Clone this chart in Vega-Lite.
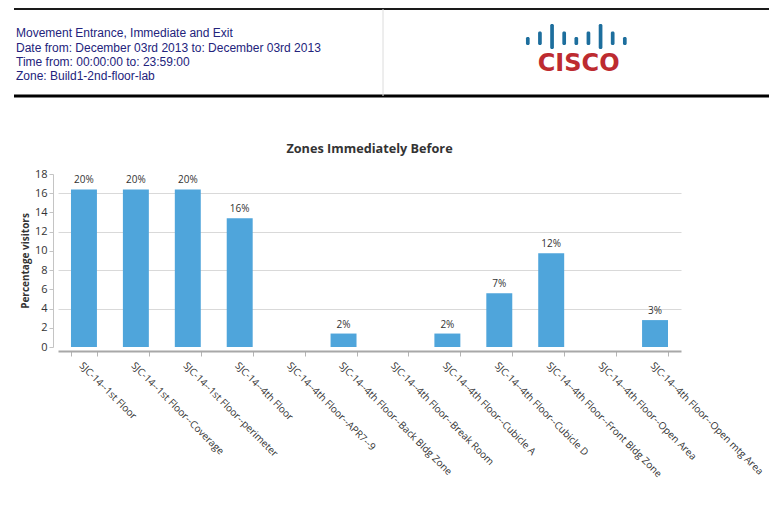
{
  "$schema": "https://vega.github.io/schema/vega-lite/v6.json",
  "background": "white",
  "padding": {"left": 12, "top": 8, "right": 0, "bottom": 0},
  "config": {"view": {"stroke": null}, "font": "Open Sans"},
  "spacing": 45,
  "vconcat": [
    {
      "width": 712,
      "height": 87,
      "resolve": {"scale": {"x": "independent", "y": "independent"}},
      "layer": [
        {
          "data": {"values": [{"edge": "top"}]},
          "mark": {"type": "rule", "color": "#1a1a1a", "strokeWidth": 2},
          "encoding": {
            "x": {"datum": -0.0618, "type": "quantitative", "scale": {"domain": [0, 1], "nice": false, "zero": false}, "axis": null},
            "x2": {"datum": 1},
            "y": {"datum": -0.7, "type": "quantitative", "scale": {"domain": [-0.7, 5.4], "reverse": true, "nice": false, "zero": false}, "axis": null}
          }
        },
        {
          "data": {"values": [{"edge": "bottom"}]},
          "mark": {"type": "rule", "color": "#000000", "strokeWidth": 3},
          "encoding": {
            "x": {"datum": -0.0618, "type": "quantitative", "scale": {"domain": [0, 1], "nice": false, "zero": false}, "axis": null},
            "x2": {"datum": 1},
            "y": {"datum": 5.4, "type": "quantitative", "scale": {"domain": [-0.7, 5.4], "reverse": true, "nice": false, "zero": false}, "axis": null}
          }
        },
        {
          "data": {"values": [{"edge": "divider"}]},
          "mark": {"type": "rule", "color": "#dcdcdc", "strokeWidth": 1},
          "encoding": {
            "x": {"datum": 0.4565, "type": "quantitative", "scale": {"domain": [0, 1], "nice": false, "zero": false}, "axis": null}
          }
        },
        {
          "data": {"values": [
            {"line": 1, "text": "Movement Entrance, Immediate and Exit"},
            {"line": 2, "text": "Date from: December 03rd 2013 to: December 03rd 2013"},
            {"line": 3, "text": "Time from: 00:00:00 to: 23:59:00"},
            {"line": 4, "text": "Zone: Build1-2nd-floor-lab"}
          ]},
          "mark": {"type": "text", "align": "left", "baseline": "middle", "font": "Liberation Sans", "fontSize": 12, "color": "#23237c"},
          "encoding": {
            "x": {"datum": -0.059, "type": "quantitative", "scale": {"domain": [0, 1], "nice": false, "zero": false}, "axis": null},
            "y": {"field": "line", "type": "quantitative", "scale": {"domain": [-0.7, 5.4], "reverse": true, "nice": false, "zero": false}, "axis": null},
            "text": {"field": "text"}
          }
        },
        {
          "data": {"values": [
            {"bar": 1, "top": 5.9, "bottom": 5.1},
            {"bar": 2, "top": 6.45, "bottom": 5.1},
            {"bar": 3, "top": 7.2, "bottom": 4.7},
            {"bar": 4, "top": 6.45, "bottom": 5.1},
            {"bar": 5, "top": 5.9, "bottom": 5.1},
            {"bar": 6, "top": 6.45, "bottom": 5.1},
            {"bar": 7, "top": 7.2, "bottom": 4.7},
            {"bar": 8, "top": 6.45, "bottom": 5.1},
            {"bar": 9, "top": 5.9, "bottom": 5.1}
          ]},
          "mark": {"type": "bar", "color": "#1d6e9d", "width": 3.7, "cornerRadius": 1.5},
          "encoding": {
            "x": {"field": "bar", "type": "quantitative", "scale": {"domain": [-37.33, 20.56], "nice": false, "zero": false}, "axis": null},
            "y": {"field": "top", "type": "quantitative", "scale": {"domain": [0, 8.7], "nice": false, "zero": false}, "axis": null},
            "y2": {"field": "bottom"}
          }
        },
        {
          "data": {"values": [{"brand": "CISCO", "bar": 5}]},
          "mark": {"type": "text", "align": "center", "baseline": "alphabetic", "font": "DejaVu Sans", "fontSize": 24, "fontWeight": "bold", "color": "#bd2b30"},
          "encoding": {
            "x": {"field": "bar", "type": "quantitative", "scale": {"domain": [-37.33, 20.56], "nice": false, "zero": false}, "axis": null},
            "y": {"datum": 2.5, "type": "quantitative", "scale": {"domain": [0, 8.7], "nice": false, "zero": false}, "axis": null},
            "text": {"field": "brand"}
          }
        }
      ]
    },
    {
      "width": 623,
      "height": 173,
      "title": {"text": "Zones Immediately Before", "font": "Open Sans", "fontSize": 12.7, "fontWeight": "bold", "color": "#333333", "offset": 12},
      "data": {"values": [
        {"zone": "SJC-14--1st Floor", "value": 16.4, "label": "20%"},
        {"zone": "SJC-14--1st Floor--Coverage", "value": 16.4, "label": "20%"},
        {"zone": "SJC-14--1st Floor--perimeter", "value": 16.4, "label": "20%"},
        {"zone": "SJC-14--4th Floor", "value": 13.4, "label": "16%"},
        {"zone": "SJC-14--4th Floor--APR7--9", "value": 0},
        {"zone": "SJC-14--4th Floor--Back Bldg Zone", "value": 1.4, "label": "2%"},
        {"zone": "SJC-14--4th Floor--Break Room", "value": 0},
        {"zone": "SJC-14--4th Floor--Cubicle A", "value": 1.4, "label": "2%"},
        {"zone": "SJC-14--4th Floor--Cubicle D", "value": 5.6, "label": "7%"},
        {"zone": "SJC-14--4th Floor--Front Bldg Zone", "value": 9.75, "label": "12%"},
        {"zone": "SJC-14--4th Floor--Open Area", "value": 0},
        {"zone": "SJC-14--4th Floor--Open mtg Area", "value": 2.8, "label": "3%"}
      ]},
      "encoding": {
        "x": {
          "field": "zone", "type": "nominal", "sort": null,
          "scale": {"paddingInner": 0.5, "paddingOuter": 0.25},
          "axis": {
            "title": null, "offset": 4, "domainColor": "#a8a8a8", "domainWidth": 2,
            "tickColor": "#b4b4b4", "tickSize": 5, "tickBand": "extent",
            "labelAngle": 45, "labelAlign": "left", "labelBaseline": "top",
            "labelFont": "Open Sans", "labelFontSize": 10, "labelColor": "#333333",
            "labelPadding": 4, "labelLimit": 300, "labelOverlap": false, "grid": false
          }
        },
        "y": {
          "field": "value", "type": "quantitative",
          "scale": {"domain": [0, 18], "nice": false},
          "axis": {
            "title": "Percentage visitors", "titleFont": "Open Sans", "titleFontSize": 10, "titleFontWeight": "bold", "titleColor": "#333333", "titlePadding": 4,
            "values": [0, 2, 4, 6, 8, 10, 12, 14, 16, 18], "tickCount": 10, "labelOverlap": false,
            "offset": 5, "domainColor": "#c4c4c4", "tickColor": "#c4c4c4", "tickSize": 4,
            "labelFont": "Open Sans", "labelFontSize": 11, "labelColor": "#333333", "labelPadding": 2,
            "grid": true, "gridColor": "#d9d9d9",
            "gridOpacity": {"condition": {"test": "datum.value % 4 === 0 && datum.value > 0 && datum.value < 18", "value": 1}, "value": 0}
          }
        }
      },
      "layer": [
        {
          "mark": {"type": "bar", "color": "#4fa5db"}
        },
        {
          "transform": [{"filter": "isValid(datum.label)"}],
          "mark": {"type": "text", "baseline": "bottom", "dy": -4, "font": "Open Sans", "fontSize": 10, "color": "#333333"},
          "encoding": {
            "text": {"field": "label"}
          }
        }
      ]
    }
  ]
}
